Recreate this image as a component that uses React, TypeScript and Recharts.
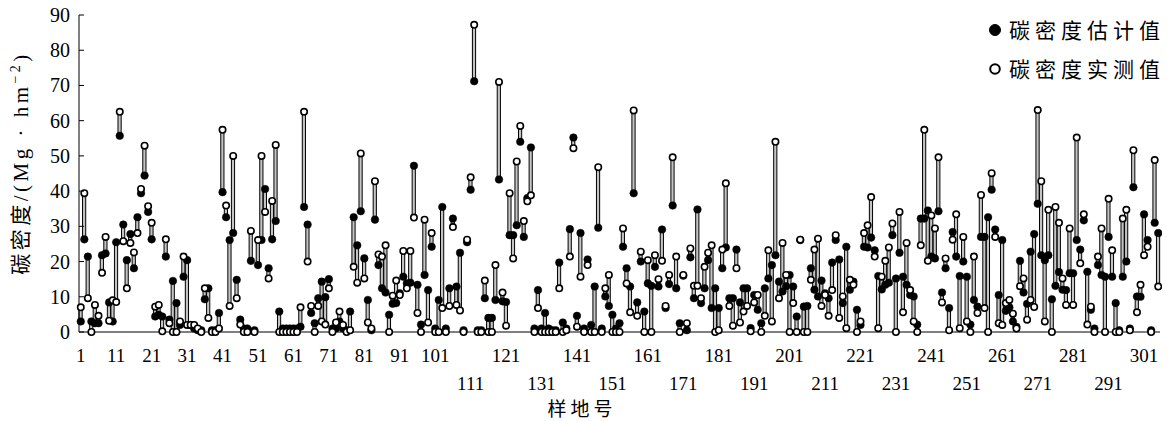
import React from 'react';
import { ComposedChart, Bar, Line, XAxis, YAxis, Customized } from 'recharts';

// 碳密度估计值 (estimated carbon density), samples 1..305
const estimated: number[] = [
  3, 26.3, 21.4, 3, 2.5, 2.5, 21.8, 22.3, 8.4, 3,
  25.5, 55.7, 30.5, 20.4, 27.8, 18.1, 32.6, 39.4, 44.4, 34.1,
  26.3, 4.4, 4.9, 4.4, 21.4, 3.5, 14.5, 8.2, 2, 15.7,
  20.4, 2, 1, 0.5, 0.5, 9.3, 12.4, 0.5, 0.5, 5.4,
  39.7, 32.6, 26.1, 28.1, 14.8, 3.5, 1, 1, 20.2, 0.5,
  19, 26.1, 40.6, 18.1, 26.3, 31.5, 5.8, 1, 1, 1,
  1, 1, 1.5, 35.5, 30.5, 5.4, 2.5, 9.6, 14.3, 9.9,
  15, 1, 1, 3, 1, 0.5, 5.8, 32.6, 24.6, 34.3,
  20.9, 9.1, 0.5, 31.9, 19, 12.4, 11.2, 4.9, 8, 8.2,
  11, 15.7, 13.8, 14, 47.2, 13.4, 2.1, 16.2, 11.9, 24.2,
  1, 9.1, 35.5, 1, 12.4, 32.2, 12.9, 22.5, 0.5, 25.5,
  40.4, 71.2, 0.5, 0.5, 9.6, 4, 4, 9.1, 43.3, 8.7,
  8.5, 27.5, 27.5, 30.3, 54, 27, 38, 52.4, 1, 11.9,
  1, 5.4, 1, 0.5, 0.5, 19.7, 2.7, 1, 29.2, 55.2,
  4.6, 28.1, 1, 20.6, 2, 12.9, 29.6, 1, 10.1, 7.4,
  4.9, 1, 2.5, 24.2, 18.1, 12.9, 39.4, 8.4, 20, 5.8,
  13.8, 13.1, 18.5, 12.9, 29.1, 6.8, 13.6, 35.9, 12.4, 2.5,
  16, 0.5, 21.2, 9.6, 34.8, 8.2, 12.4, 20.4, 6.8, 12.4,
  6.8, 18.1, 24, 9.6, 9.6, 23.4, 8.4, 12.4, 12.4, 1.1,
  10.5, 6.3, 2.5, 12.4, 15.2, 19, 21.8, 14.3, 11.5, 13,
  16.2, 12.9, 4.4, 26.1, 7.2, 7.4, 18.1, 12, 10.1, 14.6,
  11, 9.6, 19.7, 26.1, 20.6, 8.2, 24.2, 12, 14.3, 6.3,
  2, 24.2, 24, 26.8, 23.2, 15.9, 12.1, 13.4, 14, 27.5,
  15.2, 22.5, 15.7, 13.4, 10.5, 10.1, 2.1, 32.2, 32.2, 34.5,
  21.4, 20.9, 34.3, 11.2, 18.1, 6.8, 28.4, 21.4, 15.9, 20,
  15.7, 2.1, 9.1, 7.2, 27, 27, 32.6, 40.4, 29.1, 10.5,
  26.1, 6, 7, 3, 1.5, 20.2, 11.2, 8, 22.8, 27.8,
  36.4, 21.8, 20.4, 21.8, 9.3, 13.1, 17, 12, 11.9, 16.7,
  16.7, 26.1, 23.4, 31.7, 17.1, 6.3, 1, 19, 16.2, 15.7,
  27, 15.7, 8.2, 0.5, 15.7, 20, 1, 41.1, 10.1, 10,
  33.4, 26.1, 0.5, 31, 28.1,
];

// 碳密度实测值 (measured carbon density)
const measured: number[] = [
  7, 39.4, 9.6, 0, 7.7, 4.6, 16.8, 27, 3.2, 9,
  8.5, 62.5, 25.8, 12.4, 25.3, 22.6, 28.1, 40.6, 52.9, 35.7,
  31, 7.2, 7.7, 0.2, 26.3, 2.5, 0, 0, 3, 21.4,
  2, 2, 2, 1, 0, 12.4, 4, 0, 0, 1,
  57.4, 35.9, 7.4, 50, 9.6, 2.1, 0, 0, 28.7, 0,
  26.1, 50, 34.1, 15.2, 37.2, 53.1, 0, 0, 0, 0,
  0, 0, 7, 62.5, 20, 7.4, 0, 7.4, 3, 2.1,
  12.4, 0, 2.7, 5.8, 2, 0, 0.5, 18.5, 14, 50.7,
  15.2, 2.7, 1, 42.8, 22, 21.4, 24.6, 0, 10.3, 14.6,
  10.5, 23, 12.4, 23, 32.5, 5.4, 0, 31.9, 2.7, 28.1,
  0, 0, 6.8, 0, 7.4, 29.8, 7.7, 6.1, 0, 26.2,
  43.9, 87.2, 0, 0, 14.6, 0, 0, 19, 71, 11.2,
  1.8, 39.4, 20.9, 48.4, 58.5, 31.5, 37.1, 38.8, 0, 6.8,
  0, 0, 0, 0, 0, 12.4, 0, 0.5, 21.4, 52.2,
  1.5, 15.7, 0, 19, 0, 0, 46.8, 0, 12.4, 16.2,
  0, 0, 0, 29.4, 13.8, 5.6, 62.9, 4.6, 22.8, 0,
  20.4, 0, 21.8, 15, 20.2, 7.4, 16.2, 49.6, 21.4, 0,
  16.2, 2.5, 23.7, 13.1, 13.1, 9.6, 18.5, 22.5, 24.6, 0,
  0.5, 23.4, 42.2, 7.4, 1.8, 18.1, 2.7, 5.8, 7.4, 0.2,
  8.4, 10.5, 0, 4.6, 23.2, 3, 54, 9.6, 25.3, 16.2,
  0, 8.2, 0, 26.2, 0, 0, 14.8, 23.4, 26.5, 7.4,
  10.5, 4.6, 11.9, 27.5, 4, 10.1, 1.1, 14.8, 13.4, 0,
  3, 28.1, 30.3, 38.3, 21.4, 1.1, 15.7, 20.2, 24, 30.8,
  0, 34.1, 5.6, 25.3, 11.9, 3, 0, 24.6, 57.4, 20.2,
  33.1, 29.4, 49.6, 8.4, 20.9, 0.5, 26.2, 33.4, 1.1, 27,
  3, 0, 21.4, 5.4, 38.9, 6.8, 0, 45.1, 27, 2.5,
  2, 8.2, 9.1, 5.2, 1, 13, 15.2, 3.5, 9.1, 7.1,
  63, 42.8, 3, 34.7, 0, 35.5, 31, 15.2, 7.7, 29.4,
  7.7, 55.2, 19.5, 33.4, 2.1, 7.2, 0, 21.4, 29.4, 0,
  37.8, 23.2, 0, 0, 32.2, 34.7, 0.5, 51.6, 5.6, 13.4,
  21.8, 24.2, 0, 48.8, 12.9,
];

const sampleIds: number[] = estimated.map((_, i) => i + 1);
const yTicks: number[] = [0, 10, 20, 30, 40, 50, 60, 70, 80, 90];
const xTicks: number[] = [1, 11, 21, 31, 41, 51, 61, 71, 81, 91, 101, 111, 121, 131, 141, 151, 161, 171, 181, 191, 201, 211, 221, 231, 241, 251, 261, 271, 281, 291, 301];

const legendLabels = ['碳密度估计值', '碳密度实测值'];
const xTitle = '样地号';

const data = sampleIds.map((id, i) => ({
  id,
  est: estimated[i],
  meas: measured[i],
  range: [Math.min(estimated[i], measured[i]), Math.max(estimated[i], measured[i])],
}));

const SERIF = '"Liberation Serif", "Times New Roman", "Noto Sans CJK SC", serif';
const CJK = '"Noto Sans CJK SC", "Liberation Serif", serif';

const XTick = (props: any) => {
  const { x, y, payload } = props;
  const k = (payload.value - 1) / 10;
  const lower = k > 10 && k % 2 === 1;
  return (
    <text x={x} y={y + (lower ? 50 : 22)} textAnchor="middle" fontFamily={SERIF} fontSize={19} fill="#000">
      {payload.value}
    </text>
  );
};

const YTick = (props: any) => {
  const { x, y, payload } = props;
  return (
    <g>
      <line x1={71} x2={76} y1={y} y2={y} stroke="#000" strokeWidth={1} />
      <text x={x - 1} y={y} dy="0.35em" textAnchor="end" fontFamily={SERIF} fontSize={20} fill="#000">
        {payload.value}
      </text>
    </g>
  );
};

const Extras = () => (
  <g>
    <text transform="translate(20,163) rotate(-90)" textAnchor="middle" fontFamily={SERIF} fontSize={21} fill="#000" letterSpacing={3.5}>
      碳密度/(Mg · hm<tspan dy={-8} fontSize={14}>−2</tspan><tspan dy={8}>)</tspan>
    </text>
    <text x={574} y={416} textAnchor="middle" fontFamily={CJK} fontSize={19} letterSpacing={4} fill="#000">{xTitle}</text>
    <circle cx={987} cy={30} r={5.5} fill="#000" stroke="#000" />
    <text x={1001} y={30} dy="0.36em" fontFamily={CJK} fontSize={21} letterSpacing={5} fill="#000">{legendLabels[0]}</text>
    <circle cx={987} cy={69} r={4.8} fill="#fff" stroke="#000" strokeWidth={2} />
    <text x={1001} y={69} dy="0.36em" fontFamily={CJK} fontSize={21} letterSpacing={5} fill="#000">{legendLabels[1]}</text>
  </g>
);

export default function App() {
  return (
    <div style={{ marginTop: -8 }}>
      <ComposedChart width={1162} height={421} data={data} margin={{ top: 15, right: 10, bottom: 0, left: 0 }}>
        <XAxis
          dataKey="id"
          type="category"
          ticks={xTicks}
          interval={0}
          tickLine={false}
          axisLine={{ stroke: '#000', strokeWidth: 1 }}
          tick={<XTick />}
          height={89}
        />
        <YAxis
          type="number"
          domain={[0, 90]}
          ticks={yTicks}
          interval={0}
          tickLine={false}
          axisLine={{ stroke: '#000', strokeWidth: 1 }}
          tick={<YTick />}
          width={71}
        />
        <Bar dataKey="range" barSize={4} fill="#c4c4c4" stroke="#000" strokeWidth={1} isAnimationActive={false} />
        <Line dataKey="est" stroke="none" dot={{ r: 3.8, fill: '#000', stroke: '#000', strokeWidth: 0.5 }} activeDot={false} isAnimationActive={false} />
        <Line dataKey="meas" stroke="none" dot={{ r: 3.2, fill: '#fff', stroke: '#000', strokeWidth: 1.6 }} activeDot={false} isAnimationActive={false} />
        <Customized component={Extras} />
      </ComposedChart>
    </div>
  );
}
